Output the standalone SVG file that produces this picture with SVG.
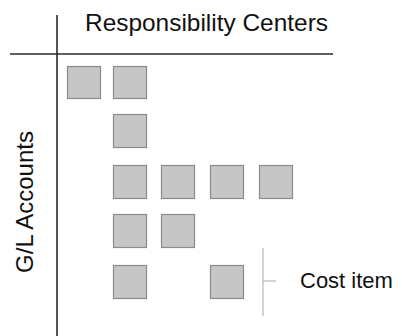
<svg xmlns="http://www.w3.org/2000/svg" width="402" height="336" viewBox="0 0 402 336">
<style>
.cell{fill:#c6c6c6;stroke:#8a8a8a;stroke-width:1.2}
.axis{stroke:#2a2a2a;stroke-width:1.6;fill:none}
.lbl{font-family:"Liberation Sans",Arial,sans-serif;fill:#111}
.br{stroke:#b8b8b8;stroke-width:1.2;fill:none}
</style>
<rect width="402" height="336" fill="#fff"/>
<g id="axes">
<line class="axis" x1="57" y1="15" x2="57" y2="336"/>
<line class="axis" x1="10" y1="54" x2="333" y2="54"/>
</g>
<g id="labels">
<text class="lbl" x="85" y="31" font-size="24" textLength="243" lengthAdjust="spacingAndGlyphs">Responsibility Centers</text>
<text class="lbl" x="0" y="0" font-size="24" text-anchor="middle" transform="translate(33,202) rotate(-90)">G/L Accounts</text>
</g>
<g id="cells">
<rect class="cell" x="67.5" y="66.5" width="33" height="32"/>
<rect class="cell" x="113.5" y="66.5" width="33" height="32"/>
<rect class="cell" x="113.5" y="114.5" width="33" height="33"/>
<rect class="cell" x="113.5" y="165.5" width="33" height="33"/>
<rect class="cell" x="161.5" y="165.5" width="33" height="33"/>
<rect class="cell" x="210.5" y="165.5" width="33" height="33"/>
<rect class="cell" x="259.5" y="165.5" width="33" height="33"/>
<rect class="cell" x="113.5" y="214.5" width="33" height="33"/>
<rect class="cell" x="161.5" y="214.5" width="33" height="33"/>
<rect class="cell" x="113.5" y="265.5" width="33" height="33"/>
<rect class="cell" x="210.5" y="265.5" width="33" height="33"/>
</g>
<g id="connectors">
<line class="br" x1="263" y1="248" x2="263" y2="316"/>
<line class="br" x1="263" y1="281" x2="276" y2="281"/>
</g>
<g id="cost-item">
<text class="lbl" x="300" y="288" font-size="22">Cost item</text>
</g>
</svg>
